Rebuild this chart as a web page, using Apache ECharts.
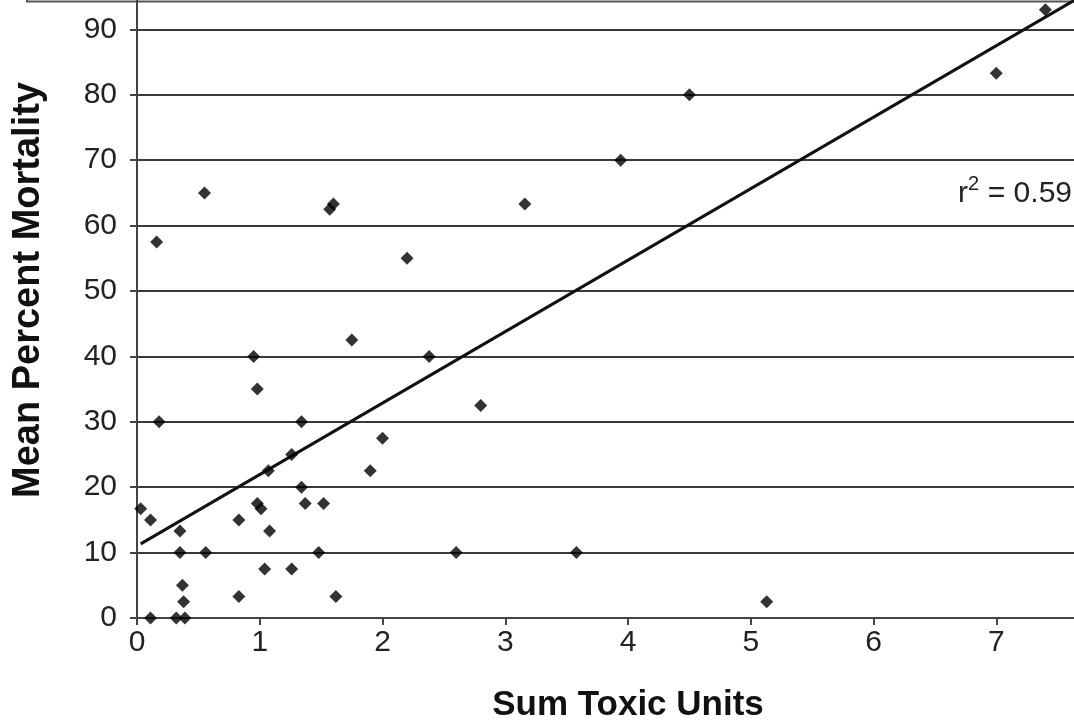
<!DOCTYPE html>
<html>
<head>
<meta charset="utf-8">
<title>Mean Percent Mortality vs Sum Toxic Units</title>
<script src="https://cdn.jsdelivr.net/npm/echarts@6/dist/echarts.min.js"></script>
<style>
    html, body { margin: 0; padding: 0; background: #fff; }
    #main { width: 1074px; height: 724px; }
</style>
</head>
<body>
<div id="main"></div>
<script>
// x: sum of toxic units, y: mean percent mortality
var toxicUnits = [0.03, 0.11, 0.11, 0.16, 0.18, 0.32, 0.35, 0.35, 0.37, 0.38, 0.39,
    0.55, 0.56, 0.83, 0.83, 0.95, 0.98, 0.98, 1.01, 1.04, 1.07, 1.08, 1.26, 1.26,
    1.34, 1.34, 1.37, 1.48, 1.52, 1.57, 1.60, 1.62, 1.75, 1.90, 2.00, 2.20, 2.38,
    2.60, 2.80, 3.16, 3.58, 3.94, 4.50, 5.13, 7.00, 7.40];
var mortality = [16.7, 15, 0, 57.5, 30, 0, 13.3, 10, 5, 2.5, 0,
    65, 10, 15, 3.3, 40, 35, 17.5, 16.7, 7.5, 22.5, 13.3, 25, 7.5,
    30, 20, 17.5, 10, 17.5, 62.5, 63.3, 3.3, 42.5, 22.5, 27.5, 55, 40,
    10, 32.5, 63.3, 10, 70, 80, 2.5, 83.3, 93];

// linear fit shown in the figure
var fitIntercept = 11.0;
var fitSlope = 10.93;
var fitRange = [0.03, 7.8];

var xTicks = [0, 1, 2, 3, 4, 5, 6, 7, 8];
var yTicks = [0, 10, 20, 30, 40, 50, 60, 70, 80, 90, 100];

var points = toxicUnits.map(function (x, i) { return [x, mortality[i]]; });
var fitLine = fitRange.map(function (x) { return [x, fitIntercept + fitSlope * x]; });

var main = echarts.init(document.getElementById('main'));
var font = '"Liberation Sans", Arial, sans-serif';
var option = {
    backgroundColor: '#fff',
    animation: false,
    grid: {
        left: 137,
        right: -45,
        top: -36,
        bottom: 106,
        containLabel: false,
        outerBoundsMode: 'none'
    },
    xAxis: {
        type: 'value',
        min: xTicks[0],
        max: xTicks[xTicks.length - 1],
        interval: 1,
        name: 'Sum Toxic Units',
        nameLocation: 'middle',
        nameGap: 70,
        nameTextStyle: { fontFamily: font, fontSize: 35, fontWeight: 'bold', color: '#111' },
        axisLine: { onZero: false, lineStyle: { color: '#444', width: 2 } },
        axisTick: { show: true, length: 7, lineStyle: { color: '#444', width: 2 } },
        axisLabel: { margin: 10, fontFamily: font, fontSize: 30, color: '#222' },
        splitLine: { show: false }
    },
    yAxis: {
        type: 'value',
        min: yTicks[0],
        max: yTicks[yTicks.length - 1],
        interval: 10,
        axisLine: { show: true, lineStyle: { color: '#444', width: 2 } },
        axisTick: { show: true, length: 7, lineStyle: { color: '#444', width: 2 } },
        axisLabel: { margin: 20, fontFamily: font, fontSize: 30, color: '#222' },
        splitLine: { show: true, lineStyle: { color: '#3a3a3a', width: 2 } }
    },
    graphic: [
        {
            type: 'polyline',
            shape: { points: [[27, 0], [27, 1.5], [1074, 1.5]] },
            style: { stroke: '#555', lineWidth: 2, fill: null }
        },
        {
            type: 'text',
            x: 29,
            y: 290,
            rotation: Math.PI / 2,
            style: {
                text: 'Mean Percent Mortality',
                font: 'bold 38px ' + font,
                fill: '#111',
                align: 'center',
                verticalAlign: 'middle'
            }
        },
        // r² label: base text, raised superscript, then the "r"
        {
            type: 'text',
            x: 1072,
            y: 194,
            style: { text: ' = 0.59', font: '30px ' + font, fill: '#222', align: 'right', verticalAlign: 'middle' }
        },
        {
            type: 'text',
            x: 979,
            y: 184,
            style: { text: '2', font: '20px ' + font, fill: '#222', align: 'right', verticalAlign: 'middle' }
        },
        {
            type: 'text',
            x: 968,
            y: 194,
            style: { text: 'r', font: '30px ' + font, fill: '#222', align: 'right', verticalAlign: 'middle' }
        }
    ],
    series: [
        {
            name: 'fit',
            type: 'line',
            data: fitLine,
            showSymbol: false,
            clip: false,
            lineStyle: { color: '#111', width: 3 },
            z: 3
        },
        {
            name: 'sites',
            type: 'scatter',
            data: points,
            symbol: 'diamond',
            symbolSize: 13,
            itemStyle: { color: '#000' },
            z: 4
        }
    ]
};
main.setOption(option);
</script>
</body>
</html>
